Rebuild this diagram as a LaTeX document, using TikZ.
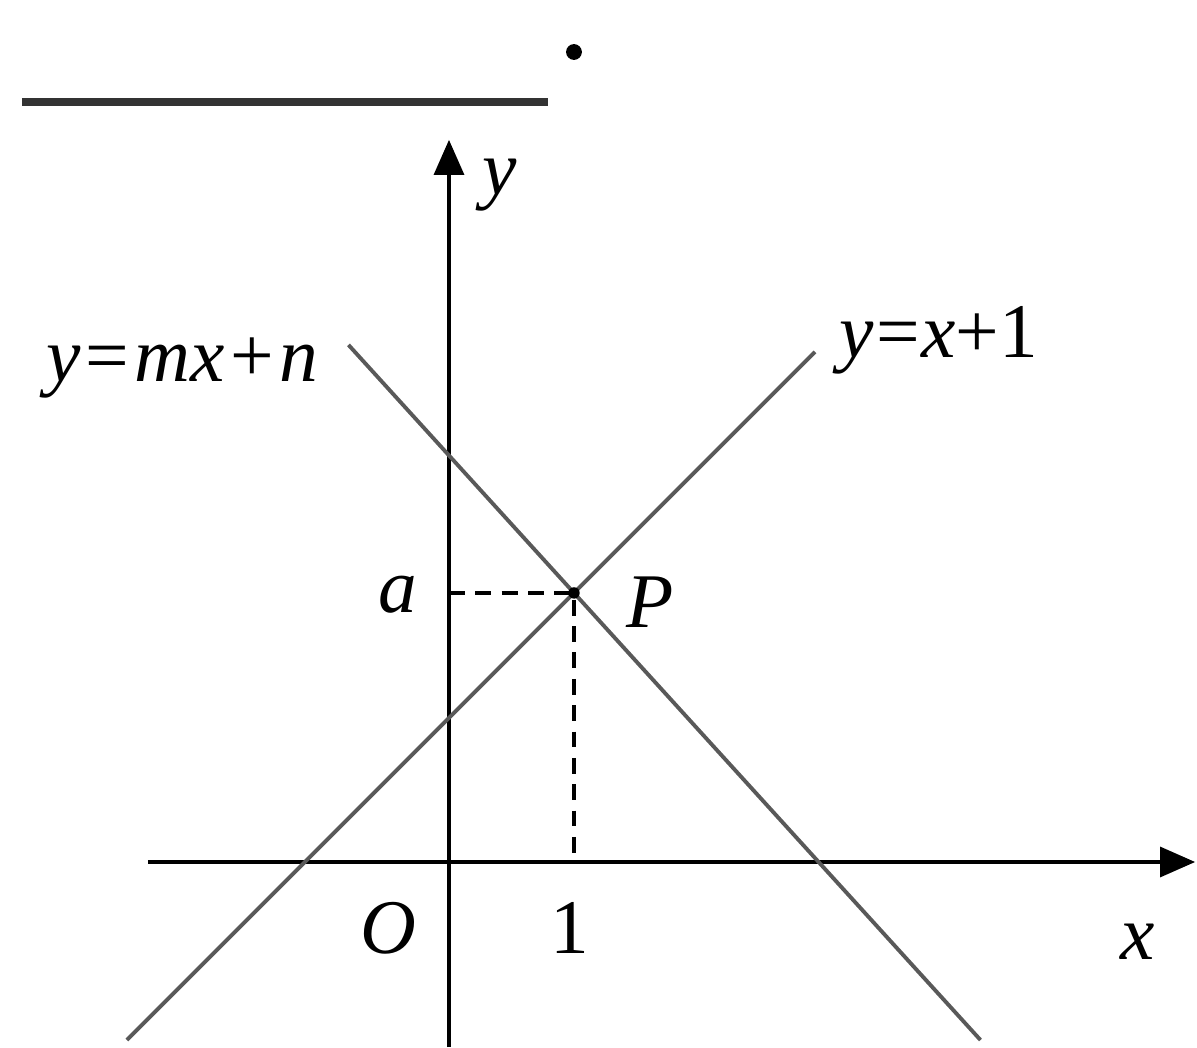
\documentclass[tikz,border=0pt]{standalone}
\usepackage{fontspec}
\setmainfont{Liberation Serif}
\usetikzlibrary{arrows.meta}
\begin{document}
\begin{tikzpicture}[scale=1.25, every node/.style={font=\fontsize{22}{26}\selectfont, inner sep=0pt},
    axis/.style={line width=1.1pt, -{Triangle[length=10pt,width=8.5pt]}},
    graph/.style={line width=1.1pt, black!65},
    guide/.style={line width=1pt, dash pattern=on 4.5pt off 3pt}]
    \useasboundingbox (-3.592,-1.48) rectangle (5.984,6.896);
    % blank to fill in
    \draw[line width=2.3pt, black!80] (-3.416,6.08) -- (0.792,6.08);
    \fill (1.0,6.48) circle[radius=1.8pt];
    % axes
    \coordinate (O) at (0,0);
    \coordinate (xl) at (-2.408,0);
    \coordinate (xr) at (5.968,0);
    \coordinate (yb) at (0,-1.48);
    \coordinate (yt) at (0,5.776);
    \draw[axis] (xl) -- (xr);
    \draw[axis] (yb) -- (yt);
    % the two lines, crossing at P(1,a)
    \coordinate (P) at (1,2.152);
    \coordinate (A) at (-2.576,-1.424);
    \coordinate (B) at (2.928,4.08);
    \coordinate (C) at (-0.804,4.136);
    \coordinate (D) at (4.251,-1.424);
    \draw[graph] (A) -- (B);
    \draw[graph] (C) -- (D);
    \coordinate (Pa) at (0,2.152);
    \coordinate (P1) at (1,0);
    \draw[guide] (Pa) -- (P) -- (P1);
    \fill (P) circle[radius=1.3pt];
    % labels
    \node (lmn) at (-2.136,3.952) {\textit{y}\kern1.5pt=\kern1.5pt\textit{mx}\kern1.5pt+\kern1.5pt\textit{n}};
    \node (lx1) at (3.92,4.176) {\textit{y}\kern0.5pt=\kern0.5pt\textit{x}+1};
    \node (ly) at (0.408,5.416) {\textit{y}};
    \node (lx) at (5.512,-0.64) {\textit{x}};
    \node (la) at (-0.408,2.136) {\textit{a}};
    \node (lP) at (1.608,2.08) {\textit{P}};
    \node (lO) at (-0.488,-0.528) {\textit{O}};
    \node (l1) at (0.968,-0.528) {1};
\end{tikzpicture}
\end{document}
